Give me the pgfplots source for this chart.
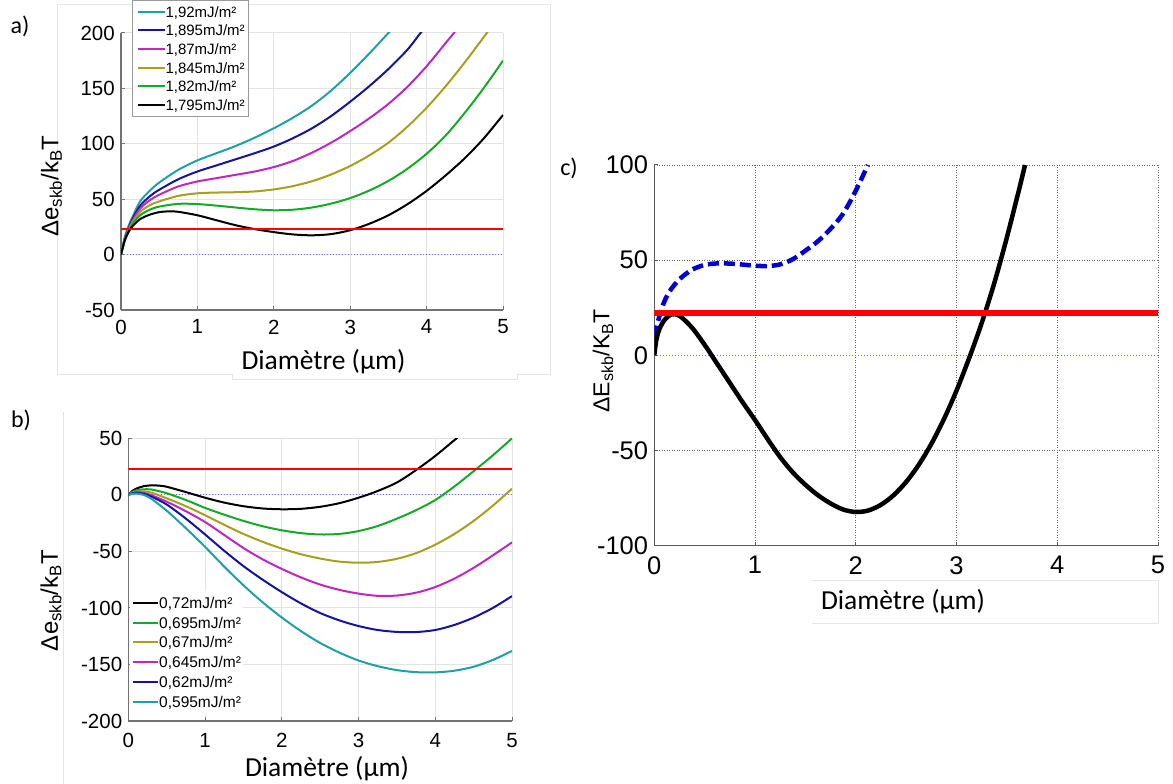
\documentclass[border=0pt]{standalone}
\usepackage{pgfplots}
\pgfplotsset{compat=1.18}
\usepackage{fontspec}
\setmainfont{Liberation Sans}
\newfontfamily\calibri{Carlito}
\definecolor{ccyan}{RGB}{30,160,170}
\definecolor{cnavy}{RGB}{20,20,160}
\definecolor{cmag}{RGB}{190,40,190}
\definecolor{colive}{RGB}{165,160,30}
\definecolor{cgreen}{RGB}{20,170,40}
\definecolor{cred}{RGB}{255,0,0}
\definecolor{czero}{RGB}{110,110,255}
\definecolor{cblue}{RGB}{0,0,215}
\begin{document}
\begin{tikzpicture}
\useasboundingbox (0bp,0bp) rectangle (1173bp,784bp);
% light image frames
\draw[black!10, line width=1bp] (57bp,409bp) -- (57bp,779bp) -- (550bp,779bp) -- (550bp,409bp) -- (517bp,409bp) -- (517bp,404bp) -- (232bp,404bp) -- (232bp,409bp) -- (57bp,409bp);
\draw[black!10, line width=1bp] (63.5bp,372bp) -- (63.5bp,0bp);
\draw[black!10, line width=1bp] (811.7bp,203bp) -- (1158bp,203bp) -- (1158bp,160bp) -- (811.7bp,160bp);

% ---------------- panel a ----------------
\begin{axis}[
  at={(121bp,474bp)}, anchor=south west,
  scale only axis, width=382bp, height=277bp,
  xmin=0, xmax=5, ymin=-50, ymax=200,
  xtick={0,...,5}, ytick={-50,0,50,100,150,200},
  axis lines=left, axis line style={-, black!55, line width=1.2bp},
  tick style={black!55, line width=1bp}, major tick length=4bp, tick align=inside,
  xtick pos=left, ytick pos=left,
  grid=major, major grid style={black!11, line width=1bp},
  tick label style={font=\fontsize{20.5bp}{20.5bp}\selectfont},
  /pgf/number format/assume math mode=true,
  xticklabel style={inner ysep=9.5bp},
  yticklabel style={inner xsep=6bp},
  legend cell align=left,
  legend image code/.code={\draw[#1] (0bp,0bp) -- (27bp,0bp);},
  legend style={at={(0.0288,0.6968)}, anchor=south west, draw=black!40, fill=white,
    line width=1bp, inner xsep=4bp, inner ysep=2bp,
    font=\fontsize{15bp}{15bp}\selectfont, row sep=0pt,
    nodes={inner sep=0pt, text height=14.75bp, text depth=3.95bp},
    /tikz/every even column/.append style={column sep=5bp}},
]
\addplot[czero, line width=1bp, dotted, forget plot] coordinates {(0,0) (5,0)};
\addplot[ccyan, line width=2bp, smooth] coordinates {(0,0) (0.05,16) (0.1,26) (0.15,34) (0.25,48) (0.375,57.5) (0.5,65) (0.75,76.5) (1,85) (1.25,91.5) (1.5,98) (1.75,105.5) (2,114) (2.25,123.5) (2.5,134.5) (2.75,148) (3,164) (3.25,181.5) (3.5,200) (3.53,202)};
\addlegendentry{1,92mJ/m²}
\addplot[cnavy, line width=2bp, smooth] coordinates {(0,0) (0.05,14.5) (0.1,24) (0.15,32) (0.25,44) (0.375,52.5) (0.5,58.5) (0.75,68) (1,75) (1.25,80.5) (1.5,86) (1.75,91.5) (2,97.5) (2.25,105) (2.5,114) (2.75,125) (3,138) (3.25,152) (3.5,167.5) (3.75,185) (3.92,200) (3.95,202)};
\addlegendentry{1,895mJ/m²}
\addplot[cmag, line width=2bp, smooth] coordinates {(0,0) (0.05,14) (0.1,23) (0.15,30.5) (0.25,41.5) (0.375,49) (0.5,54) (0.75,61.5) (1,66) (1.25,69) (1.5,72) (1.75,75) (2,79) (2.25,84.5) (2.5,92) (2.75,101) (3,111.5) (3.25,123) (3.5,136) (3.75,151.5) (4,170) (4.25,191) (4.37,201)};
\addlegendentry{1,87mJ/m²}
\addplot[colive, line width=2bp, smooth] coordinates {(0,0) (0.05,13.5) (0.1,22) (0.15,29) (0.25,38.5) (0.375,44.5) (0.5,48) (0.75,53) (1,55.3) (1.25,56) (1.5,56.3) (1.75,57) (2,58.8) (2.25,61.8) (2.5,66.2) (2.75,72.3) (3,80) (3.25,89.5) (3.5,101) (3.75,115.5) (4,132.5) (4.25,152) (4.5,173.5) (4.75,196.5) (4.8,201)};
\addlegendentry{1,845mJ/m²}
\addplot[cgreen, line width=2bp, smooth] coordinates {(0,0) (0.05,13) (0.1,21) (0.15,27.5) (0.25,35.5) (0.375,40.5) (0.5,43.3) (0.75,45.8) (1,45.6) (1.25,44.2) (1.5,42.5) (1.75,40.9) (2,40) (2.25,40.5) (2.5,42.5) (2.75,46) (3,51) (3.25,57.8) (3.5,66.5) (3.75,77.5) (4,91) (4.25,107.5) (4.5,128) (4.75,150.5) (5,175)};
\addlegendentry{1,82mJ/m²}
\addplot[black, line width=2bp, smooth] coordinates {(0,0) (0.05,13) (0.1,20.5) (0.15,25.5) (0.25,32) (0.375,36) (0.5,38.3) (0.625,39) (0.75,38.6) (1,35.5) (1.25,31) (1.5,26.5) (1.75,23) (2,20.3) (2.25,18.2) (2.5,17.4) (2.75,18.5) (3,22) (3.25,27.8) (3.5,35.5) (3.75,45.5) (4,57.5) (4.25,71.5) (4.5,87) (4.75,105) (5,126)};
\addlegendentry{1,795mJ/m²}
\addplot[cred, line width=2bp, forget plot] coordinates {(0,23) (5,23)};
\end{axis}

% ---------------- panel b ----------------
\begin{axis}[
  at={(128.4bp,63bp)}, anchor=south west,
  scale only axis, width=383.6bp, height=282.6bp,
  xmin=0, xmax=5, ymin=-200, ymax=50,
  xtick={0,...,5}, ytick={-200,-150,-100,-50,0,50},
  axis lines=left, axis line style={-, black!55, line width=1.2bp},
  tick style={black!55, line width=1bp}, major tick length=4bp, tick align=inside,
  xtick pos=left, ytick pos=left,
  grid=major, major grid style={black!11, line width=1bp},
  tick label style={font=\fontsize{20.5bp}{20.5bp}\selectfont},
  /pgf/number format/assume math mode=true,
  xticklabel style={inner ysep=12bp},
  yticklabel style={inner xsep=6bp},
  legend cell align=left,
  legend image code/.code={\draw[#1] (0bp,0bp) -- (25bp,0bp);},
  legend style={at={(0.0042,0.0248)}, anchor=south west, draw=none, fill=white,
    inner xsep=2bp, inner ysep=2bp,
    font=\fontsize{15.5bp}{15.5bp}\selectfont, row sep=0pt,
    nodes={inner sep=0pt, text height=15.4bp, text depth=4.4bp},
    /tikz/every even column/.append style={column sep=6bp}},
]
\addplot[czero, line width=1bp, dotted, forget plot] coordinates {(0,0) (5,0)};
\addplot[black, line width=2bp, smooth] coordinates {(0,0) (0.05,3.5) (0.1,5.5) (0.2,7.7) (0.3,8.5) (0.4,8.2) (0.5,7.2) (0.75,2.5) (1,-2.5) (1.25,-6.8) (1.5,-10) (1.75,-12) (2,-12.7) (2.25,-12.3) (2.5,-10.5) (2.75,-7.3) (3,-2.5) (3.25,3.5) (3.5,11) (3.75,22) (4,34.5) (4.25,48.5) (4.29,50.5)};
\addlegendentry{0,72mJ/m²}
\addplot[cgreen, line width=2bp, smooth] coordinates {(0,0) (0.05,2.5) (0.1,4) (0.2,5) (0.3,4.8) (0.4,3.3) (0.5,1.5) (0.75,-4.5) (1,-11.5) (1.25,-17.5) (1.5,-23) (1.75,-27.7) (2,-31.3) (2.25,-33.8) (2.5,-35) (2.75,-34.5) (3,-32) (3.25,-27.5) (3.5,-21) (3.75,-13.5) (4,-4.5) (4.25,7.5) (4.5,21) (4.75,35) (5,50)};
\addlegendentry{0,695mJ/m²}
\addplot[colive, line width=2bp, smooth] coordinates {(0,0) (0.05,2) (0.1,3) (0.2,3.2) (0.3,2) (0.5,-3) (0.75,-10) (1,-18) (1.25,-26.5) (1.5,-34.5) (1.75,-41.5) (2,-47.5) (2.25,-52.5) (2.5,-56.3) (2.75,-59) (3,-60) (3.25,-59.3) (3.5,-56.5) (3.75,-51.5) (4,-44) (4.25,-34.5) (4.5,-23) (4.75,-9.5) (5,5.5)};
\addlegendentry{0,67mJ/m²}
\addplot[cmag, line width=2bp, smooth] coordinates {(0,0) (0.05,1.5) (0.1,2.3) (0.2,1.8) (0.3,-0.3) (0.5,-6) (0.75,-14.5) (1,-24) (1.25,-35.5) (1.5,-47) (1.75,-57) (2,-65.5) (2.25,-73) (2.5,-79.3) (2.75,-84) (3,-87.3) (3.25,-89.3) (3.5,-89) (3.75,-86.5) (4,-81.5) (4.25,-74) (4.5,-64.5) (4.75,-53.5) (5,-42)};
\addlegendentry{0,645mJ/m²}
\addplot[cnavy, line width=2bp, smooth] coordinates {(0,0) (0.05,1.3) (0.1,2) (0.2,1) (0.3,-1.5) (0.5,-8.5) (0.75,-21) (1,-35) (1.25,-49.5) (1.5,-63) (1.75,-75) (2,-86) (2.25,-96) (2.5,-104.5) (2.75,-111) (3,-116) (3.25,-119.5) (3.5,-121.2) (3.75,-121.3) (4,-119.5) (4.25,-115) (4.5,-108.5) (4.75,-100) (5,-89.5)};
\addlegendentry{0,62mJ/m²}
\addplot[ccyan, line width=2bp, smooth] coordinates {(0,0) (0.05,1) (0.1,1.3) (0.2,0) (0.3,-3.5) (0.5,-14) (0.75,-29.5) (1,-46) (1.25,-63.5) (1.5,-80) (1.75,-95) (2,-108.5) (2.25,-120.5) (2.5,-131) (2.75,-139.5) (3,-146.5) (3.25,-151.5) (3.5,-155) (3.75,-156.8) (4,-157) (4.25,-155.5) (4.5,-152) (4.75,-146) (5,-138)};
\addlegendentry{0,595mJ/m²}
\addplot[cred, line width=2bp, forget plot] coordinates {(0,22.5) (5,22.5)};
\end{axis}

% ---------------- panel c ----------------
\begin{axis}[
  at={(654.3bp,238.3bp)}, anchor=south west,
  scale only axis, width=503.7bp, height=380.7bp,
  xmin=0, xmax=5, ymin=-100, ymax=100,
  xtick={0,...,5}, ytick={-100,-50,50,100},
  extra y ticks={0}, extra y tick style={grid=none},
  axis lines=left, axis line style={-, black!65, line width=1bp},
  tick style={black!65, line width=1bp}, major tick length=4bp, tick align=inside,
  xtick pos=left, ytick pos=left,
  grid=major, major grid style={black!60, line width=0.8bp, dash pattern=on 1bp off 1.5bp},
  tick label style={font=\fontsize{25.5bp}{25.5bp}\selectfont},
  /pgf/number format/assume math mode=true,
  xticklabel style={inner ysep=10.5bp},
  yticklabel style={inner xsep=6bp},
]
\addplot[czero, line width=1bp, dotted] coordinates {(0,0) (5,0)};
\addplot[cblue, line width=4.5bp, dash pattern=on 11bp off 5bp, smooth] coordinates {(0,10) (0.04,18.5) (0.09,27) (0.15,33.5) (0.25,40) (0.375,45) (0.5,47.5) (0.625,48.3) (0.75,48.2) (0.875,47.7) (1,47.1) (1.125,46.9) (1.25,47.8) (1.375,50.5) (1.5,55) (1.625,60) (1.75,66.5) (1.875,74.5) (2,86.5) (2.12,100)};
\addplot[black, line width=4.5bp, smooth] coordinates {(0,0) (0.02,8) (0.05,13.7) (0.1,18.5) (0.17,21.5) (0.25,20.8) (0.375,14.5) (0.5,5.5) (0.625,-4.5) (0.75,-14.5) (0.875,-24.5) (1,-34) (1.125,-44) (1.25,-53.5) (1.375,-61.5) (1.5,-68) (1.625,-73.5) (1.75,-77.8) (1.875,-81) (2,-82.3) (2.125,-81.5) (2.25,-78.5) (2.375,-73.5) (2.5,-66.5) (2.625,-57.5) (2.75,-46.5) (2.875,-33.5) (3,-18.5) (3.125,-1.5) (3.25,17) (3.375,38) (3.5,62) (3.625,88) (3.68,100)};
\addplot[cred, line width=6bp] coordinates {(0,22.5) (5,22.5)};
\end{axis}

% labels
\node[font=\calibri\fontsize{24bp}{24bp}\selectfont] at (20bp,758bp) {a)};
\node[font=\calibri\fontsize{24bp}{24bp}\selectfont] at (21bp,364bp) {b)};
\node[font=\calibri\fontsize{24bp}{24bp}\selectfont] at (569bp,616bp) {c)};
\node[font=\calibri\fontsize{27.5bp}{27.5bp}\selectfont] at (323.5bp,422.3bp) {Diamètre (µm)};
\node[font=\calibri\fontsize{27.5bp}{27.5bp}\selectfont] at (327bp,15bp) {Diamètre (µm)};
\node[font=\calibri\fontsize{27.5bp}{27.5bp}\selectfont] at (903bp,182.3bp) {Diamètre (µm)};
\node[rotate=90, font=\fontsize{24bp}{24bp}\selectfont] at (51.5bp,598bp) {Δe\textsubscript{skb}/k\textsubscript{B}T};
\node[rotate=90, font=\fontsize{24bp}{24bp}\selectfont] at (51bp,183.5bp) {Δe\textsubscript{skb}/k\textsubscript{B}T};
\node[rotate=90, font=\fontsize{23bp}{23bp}\selectfont] at (603bp,423bp) {ΔE\textsubscript{skb}/K\textsubscript{B}T};
\end{tikzpicture}
\end{document}
